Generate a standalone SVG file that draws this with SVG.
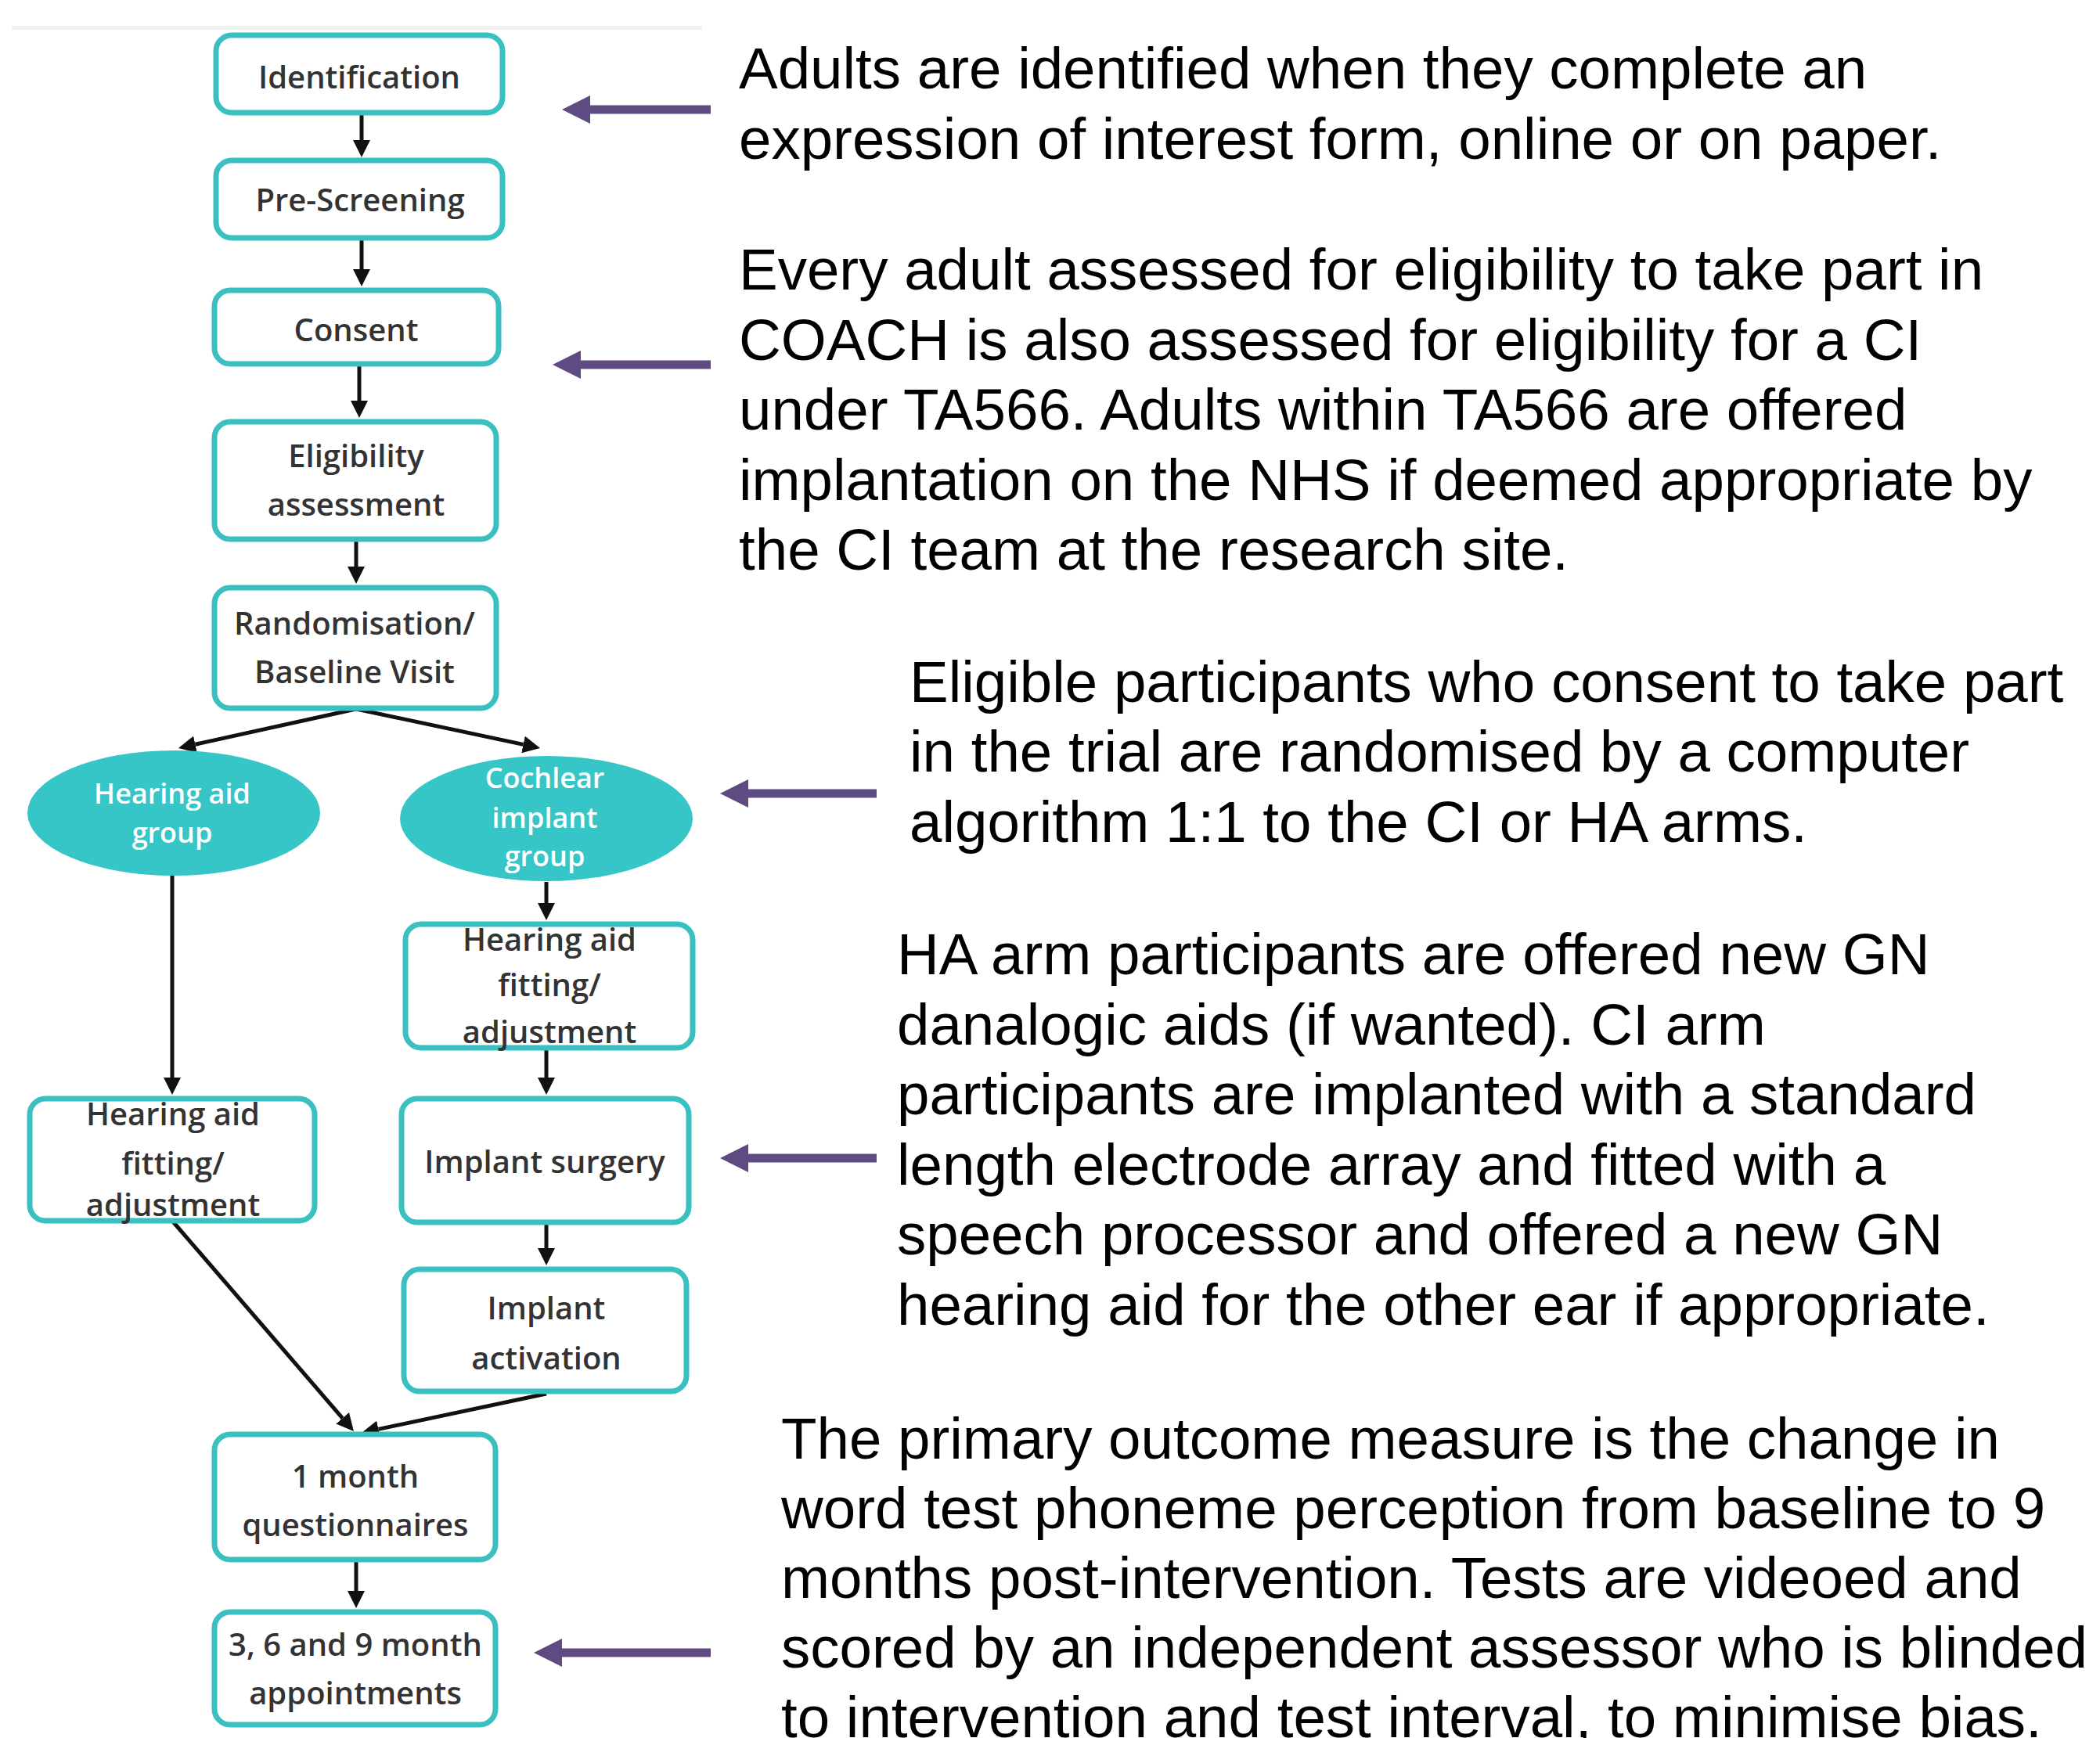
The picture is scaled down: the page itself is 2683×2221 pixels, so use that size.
<svg xmlns="http://www.w3.org/2000/svg" width="2683" height="2221" viewBox="0 0 2683 2221">
<style>
.box{fill:#fff;stroke:#3BC0C2;stroke-width:7}
.ell{fill:#36C6C8;stroke:none}
.bt{font-family:"Open Sans","Liberation Sans",sans-serif;font-size:40px;font-weight:600;fill:#333;text-anchor:middle}
.et{font-family:"Open Sans","Liberation Sans",sans-serif;font-size:36px;font-weight:600;fill:#fff;text-anchor:middle}
.conn{stroke:#111;stroke-width:5;fill:none;marker-end:url(#ba)}
.parr{stroke:#5E4B82;stroke-width:11;fill:none;marker-end:url(#pa)}
.rt{font-family:"Liberation Sans",Arial,sans-serif;font-size:74.5px;fill:#000}
</style>
<defs>
<marker id="ba" markerUnits="userSpaceOnUse" markerWidth="22" markerHeight="22" viewBox="0 0 22 22" refX="0" refY="11" orient="auto"><path d="M0,0 L22,11 L0,22 z" fill="#111"/></marker>
<marker id="pa" markerUnits="userSpaceOnUse" markerWidth="36" markerHeight="36" viewBox="0 0 36 36" refX="0" refY="18" orient="auto"><path d="M0,0 L36,18 L0,36 z" fill="#5E4B82"/></marker>
</defs>
<rect width="2683" height="2221" fill="#fff"/>
<rect x="15" y="33" width="882" height="5" fill="#f2f2f2"/>

<g id="connectors">
<line class="conn" x1="462" y1="147" x2="462" y2="179"/>
<line class="conn" x1="462" y1="307" x2="462" y2="344"/>
<line class="conn" x1="459" y1="468" x2="459" y2="512"/>
<line class="conn" x1="455" y1="692" x2="455" y2="724"/>
<line class="conn" x1="455" y1="906" x2="249.5" y2="951.3"/>
<line class="conn" x1="455" y1="906" x2="668.5" y2="951.4"/>
<line class="conn" x1="220" y1="1119" x2="220" y2="1377"/>
<line class="conn" x1="698" y1="1127" x2="698" y2="1154"/>
<line class="conn" x1="698" y1="1342" x2="698" y2="1377"/>
<line class="conn" x1="698" y1="1565" x2="698" y2="1595"/>
<line class="conn" x1="220" y1="1560" x2="437.6" y2="1812.3"/>
<line class="conn" x1="698" y1="1781" x2="483.5" y2="1826.4"/>
<line class="conn" x1="455" y1="1996" x2="455" y2="2033"/>
</g>

<g id="n-identification"><rect class="box" x="276" y="45" width="366" height="99" rx="20"/><text class="bt" x="459" y="113">Identification</text></g>
<g id="n-prescreening"><rect class="box" x="276" y="205" width="366" height="99" rx="20"/><text class="bt" x="460" y="270">Pre-Screening</text></g>
<g id="n-consent"><rect class="box" x="274" y="371" width="363" height="94" rx="20"/><text class="bt" x="455" y="436">Consent</text></g>
<g id="n-eligibility"><rect class="box" x="274" y="539" width="360" height="150" rx="20"/><text class="bt" x="455" y="597">Eligibility</text><text class="bt" x="455" y="659">assessment</text></g>
<g id="n-randomisation"><rect class="box" x="274" y="751" width="360" height="154" rx="20"/><text class="bt" x="453" y="811">Randomisation/</text><text class="bt" x="453" y="873">Baseline Visit</text></g>
<g id="n-ha-group"><ellipse class="ell" cx="222" cy="1039" rx="187" ry="80"/><text class="et" x="220" y="1027">Hearing aid</text><text class="et" x="220" y="1077">group</text></g>
<g id="n-ci-group"><ellipse class="ell" cx="698" cy="1046" rx="187" ry="80"/><text class="et" x="696" y="1007">Cochlear</text><text class="et" x="696" y="1058">implant</text><text class="et" x="696" y="1107">group</text></g>
<g id="n-ci-ha-fitting"><rect class="box" x="518" y="1181" width="367" height="158" rx="20"/><text class="bt" x="702" y="1215">Hearing aid</text><text class="bt" x="702" y="1273">fitting/</text><text class="bt" x="702" y="1333">adjustment</text></g>
<g id="n-ha-fitting"><rect class="box" x="38" y="1404" width="364" height="156" rx="20"/><text class="bt" x="221" y="1438">Hearing aid</text><text class="bt" x="221" y="1501">fitting/</text><text class="bt" x="221" y="1554">adjustment</text></g>
<g id="n-surgery"><rect class="box" x="513" y="1404" width="367" height="158" rx="20"/><text class="bt" x="696" y="1499">Implant surgery</text></g>
<g id="n-activation"><rect class="box" x="516" y="1622" width="361" height="156" rx="20"/><text class="bt" x="698" y="1686">Implant</text><text class="bt" x="698" y="1750">activation</text></g>
<g id="n-1month"><rect class="box" x="274" y="1833" width="359" height="160" rx="20"/><text class="bt" x="454" y="1901">1 month</text><text class="bt" x="454" y="1963">questionnaires</text></g>
<g id="n-appointments"><rect class="box" x="274" y="2060" width="359" height="144" rx="20"/><text class="bt" x="454" y="2116">3, 6 and 9 month</text><text class="bt" x="454" y="2178">appointments</text></g>

<g id="pointers">
<line class="parr" x1="908" y1="140" x2="754" y2="140"/>
<line class="parr" x1="908" y1="466" x2="742" y2="466"/>
<line class="parr" x1="1120" y1="1014" x2="956" y2="1014"/>
<line class="parr" x1="1120" y1="1480" x2="956" y2="1480"/>
<line class="parr" x1="908" y1="2112" x2="718" y2="2112"/>
</g>

<g id="note-identification" class="rt">
<text x="944" y="113">Adults are identified when they complete an</text>
<text x="944" y="203">expression of interest form, online or on paper.</text>
</g>
<g id="note-eligibility" class="rt">
<text x="944" y="370">Every adult assessed for eligibility to take part in</text>
<text x="944" y="459.5">COACH is also assessed for eligibility for a CI</text>
<text x="944" y="549">under TA566. Adults within TA566 are offered</text>
<text x="944" y="638.5">implantation on the NHS if deemed appropriate by</text>
<text x="944" y="728">the CI team at the research site.</text>
</g>
<g id="note-randomisation" class="rt">
<text x="1162" y="897">Eligible participants who consent to take part</text>
<text x="1162" y="986">in the trial are randomised by a computer</text>
<text x="1162" y="1076">algorithm 1:1 to the CI or HA arms.</text>
</g>
<g id="note-arms" class="rt">
<text x="1146" y="1245">HA arm participants are offered new GN</text>
<text x="1146" y="1334.5">danalogic aids (if wanted). CI arm</text>
<text x="1146" y="1424">participants are implanted with a standard</text>
<text x="1146" y="1513.5">length electrode array and fitted with a</text>
<text x="1146" y="1603">speech processor and offered a new GN</text>
<text x="1146" y="1692.5">hearing aid for the other ear if appropriate.</text>
</g>
<g id="note-outcome" class="rt">
<text x="998" y="1864">The primary outcome measure is the change in</text>
<text x="998" y="1953">word test phoneme perception from baseline to 9</text>
<text x="998" y="2042">months post-intervention. Tests are videoed and</text>
<text x="998" y="2131">scored by an independent assessor who is blinded</text>
<text x="998" y="2220">to intervention and test interval, to minimise bias.</text>
</g>
</svg>
